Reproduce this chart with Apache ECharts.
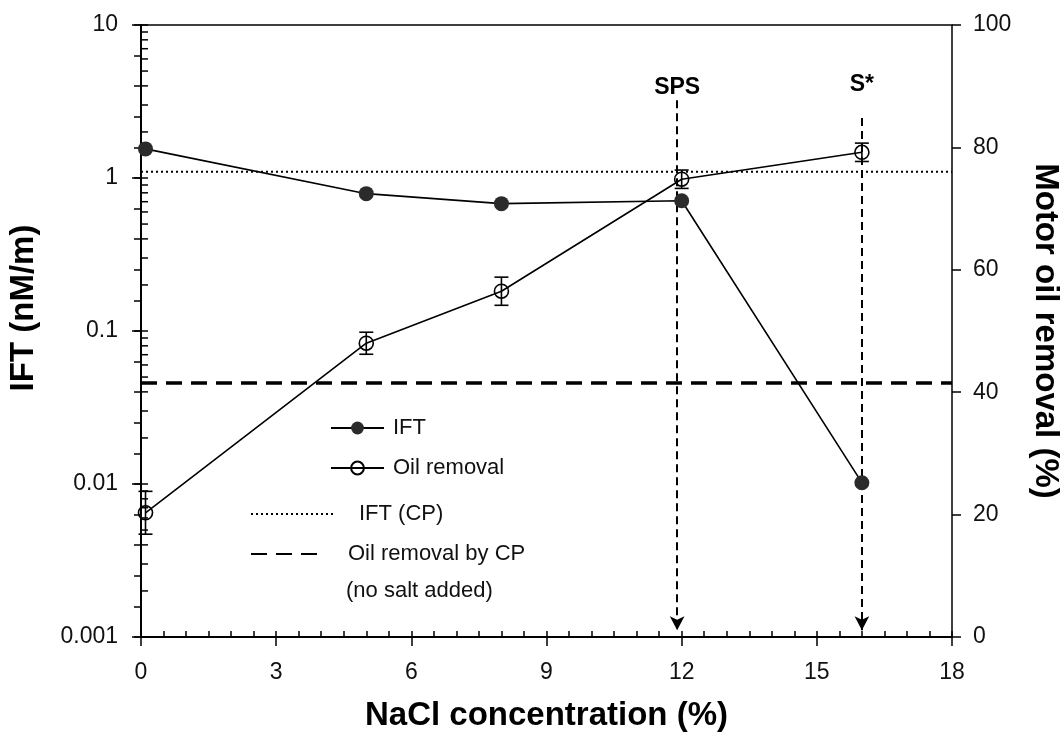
<!DOCTYPE html>
<html>
<head>
<meta charset="utf-8">
<script src="https://cdn.jsdelivr.net/npm/echarts@6/dist/echarts.min.js"></script>
<style>
html,body{margin:0;padding:0;background:#fff;}
#chart{width:1063px;height:744px;}
</style>
</head>
<body>
<div id="chart"></div>
<script>
// ---- data ----
const naclConc = [0.1, 5, 8, 12, 16];
const iftValues = [1.55, 0.79, 0.68, 0.71, 0.0102];
const oilRemoval = [20.3, 48.0, 56.5, 74.8, 79.2];
const oilRemovalErr = [3.5, 1.8, 2.3, 1.5, 1.5];
const iftCP = 1.1;
const oilRemovalCP = 41.5;
const markerNames = ['SPS', 'S*'];
const markerX = [11.9, 16];
const markerTop = [87.7, 84.8];
const markerBottom = [1.1, 1.1];
const iftTickLabels = ['0.001', '0.01', '0.1', '1', '10'];
const logMajorTicks = [0.001, 0.01, 0.1, 1, 10];
const logMinorTicks = [0.002,0.003,0.004,0.005,0.006,0.007,0.008,0.009,
  0.02,0.03,0.04,0.05,0.06,0.07,0.08,0.09,
  0.2,0.3,0.4,0.5,0.6,0.7,0.8,0.9,
  2,3,4,5,6,7,8,9];

const FONT = '"Liberation Sans", Arial, sans-serif';
const black = '#000';
const tickStyle = {color: black, width: 1.5};
const titleStyle = {fontSize: 33, fontWeight: 'bold', color: black, fontFamily: FONT};

const chart = echarts.init(document.getElementById('chart'));
const option = {
  animation: false,
  backgroundColor: '#fff',
  textStyle: {fontFamily: FONT},
  grid: {left: 141, right: 111, top: 25, bottom: 107, containLabel: false, outerBoundsMode: 'none',
    show: true, borderColor: black, borderWidth: 1.5, backgroundColor: 'transparent'},
  legend: [
    {data: ['IFT', 'Oil removal'], orient: 'vertical', left: 325, top: 412, itemWidth: 53, itemHeight: 16, itemGap: 18,
     selectedMode: false, textStyle: {fontSize: 22, color: '#111', fontFamily: FONT, padding: [0,0,0,4]}},
    {data: ['IFT (CP)'], left: 245, top: 498, itemWidth: 82, itemHeight: 14, selectedMode: false,
     textStyle: {fontSize: 22, color: '#111', fontFamily: FONT, padding: [0,0,0,21]}},
    {data: ['Oil removal by CP'], left: 245, top: 538, itemWidth: 68, itemHeight: 14, selectedMode: false,
     textStyle: {fontSize: 22, color: '#111', fontFamily: FONT, padding: [0,0,0,24]}}
  ],
  graphic: [
    {type: 'text', left: 346, top: 580, style: {text: '(no salt added)', font: '22px ' + FONT, fill: '#111'}}
  ],
  xAxis: [
    {type: 'value', min: 0, max: 18, interval: 3, position: 'bottom',
     axisLine: {lineStyle: {color: black, width: 2}},
     axisTick: {inside: true, length: 6, lineStyle: tickStyle},
     minorTick: {show: true, splitNumber: 6, length: 6, lineStyle: tickStyle},
     splitLine: {show: false}, minorSplitLine: {show: false},
     axisLabel: {fontSize: 23, color: '#111', margin: 24, fontFamily: FONT},
     name: 'NaCl concentration (%)', nameLocation: 'middle', nameGap: 62,
     nameTextStyle: titleStyle},
    {type: 'value', min: 0, max: 18, interval: 3, position: 'bottom',
     axisLine: {show: false}, axisTick: {show: true, length: 9, lineStyle: tickStyle},
     axisLabel: {show: false}, splitLine: {show: false}}
  ],
  yAxis: [
    {type: 'log', logBase: 10, min: 0.001, max: 10, position: 'left',
     axisLine: {show: true, lineStyle: {color: black, width: 2}},
     axisTick: {show: false},
     splitLine: {show: false},
     axisLabel: {fontSize: 23, color: '#111', margin: 23, fontFamily: FONT,
       formatter: v => iftTickLabels[Math.round(Math.log10(v)) + 3]},
     name: 'IFT (nM/m)', nameLocation: 'middle', nameGap: 101,
     nameTextStyle: Object.assign({padding: [0, 0, 0, 46]}, titleStyle)},
    {type: 'value', min: 0, max: 100, interval: 20, position: 'right',
     axisLine: {show: true, lineStyle: {color: black, width: 2}},
     axisTick: {show: true, inside: true, length: 7, lineStyle: tickStyle},
     minorTick: {show: true, splitNumber: 4, length: 7, lineStyle: tickStyle},
     splitLine: {show: false}, minorSplitLine: {show: false},
     axisLabel: {fontSize: 23, color: '#111', margin: 21, fontFamily: FONT},
     name: 'Motor oil removal (%)', nameLocation: 'middle', nameGap: 77, nameRotate: -90,
     nameTextStyle: titleStyle},
    {type: 'value', min: 0, max: 100, interval: 20, position: 'right',
     axisLine: {show: false}, axisTick: {show: true, length: 9, lineStyle: tickStyle},
     axisLabel: {show: false}, splitLine: {show: false}}
  ],
  series: [
    {name: 'IFT', type: 'line', yAxisIndex: 0, z: 5,
     data: naclConc.map((x, i) => [x, iftValues[i]]),
     symbol: 'circle', symbolSize: 15,
     itemStyle: {color: '#2b2b2b'}, lineStyle: {color: black, width: 1.6}},
    {name: 'Oil removal', type: 'line', yAxisIndex: 1, z: 5,
     data: naclConc.map((x, i) => [x, oilRemoval[i]]),
     symbol: 'circle', symbolSize: 14,
     itemStyle: {color: 'rgba(255,255,255,0)', borderColor: black, borderWidth: 1.6},
     lineStyle: {color: black, width: 1.6},
     markLine: {
       silent: true, symbol: ['none', 'arrow'], symbolSize: [11, 14],
       lineStyle: {color: black, width: 2, type: [8, 5]},
       label: {show: true, position: 'start', formatter: '{b}', distance: 4,
         fontSize: 23, fontWeight: 'bold', color: black, fontFamily: FONT},
       data: markerNames.map((n, i) => [
         {name: n, coord: [markerX[i], markerTop[i]], label: {distance: i === 0 ? 1 : 22}},
         {coord: [markerX[i], markerBottom[i]]}
       ])
     }},
    {name: 'IFT (CP)', type: 'line', yAxisIndex: 0, z: 3,
     data: [[0, iftCP], [18, iftCP]], symbol: 'none',
     itemStyle: {color: 'rgba(0,0,0,0)', borderWidth: 0},
     lineStyle: {color: black, width: 2, type: [2, 3]}},
    {name: 'Oil removal by CP', type: 'line', yAxisIndex: 1, z: 3,
     data: [[0, oilRemovalCP], [18, oilRemovalCP]], symbol: 'none',
     itemStyle: {color: 'rgba(0,0,0,0)', borderWidth: 0},
     lineStyle: {color: black, width: 3.5, type: [16, 9]}},
    {name: 'errbars', type: 'custom', yAxisIndex: 1, z: 6, clip: false,
     data: naclConc.map((x, i) => [x, oilRemoval[i] - oilRemovalErr[i], oilRemoval[i] + oilRemovalErr[i]]),
     encode: {x: 0, y: [1, 2]},
     renderItem: (params, api) => {
       const lo = api.coord([api.value(0), api.value(1)]);
       const hi = api.coord([api.value(0), api.value(2)]);
       const w = 7;
       const st = {stroke: black, lineWidth: 1.6};
       return {type: 'group', children: [
         {type: 'line', shape: {x1: lo[0], y1: lo[1], x2: hi[0], y2: hi[1]}, style: st},
         {type: 'line', shape: {x1: lo[0] - w, y1: lo[1], x2: lo[0] + w, y2: lo[1]}, style: st},
         {type: 'line', shape: {x1: hi[0] - w, y1: hi[1], x2: hi[0] + w, y2: hi[1]}, style: st}
       ]};
     }},
    {name: 'logticks', type: 'custom', yAxisIndex: 0, z: 6, clip: false,
     data: logMajorTicks.map(v => [0, v, 1]).concat(logMinorTicks.map(v => [0, v, 0])),
     encode: {x: 0, y: 1},
     renderItem: (params, api) => {
       const p = api.coord([api.value(0), api.value(1)]);
       const major = api.value(2) === 1;
       return {type: 'line', shape: {x1: p[0] - (major ? 9 : 0), y1: p[1], x2: p[0] + 7, y2: p[1]},
         style: {stroke: black, lineWidth: 1.5}};
     }}
  ]
};
chart.setOption(option);
</script>
</body>
</html>
